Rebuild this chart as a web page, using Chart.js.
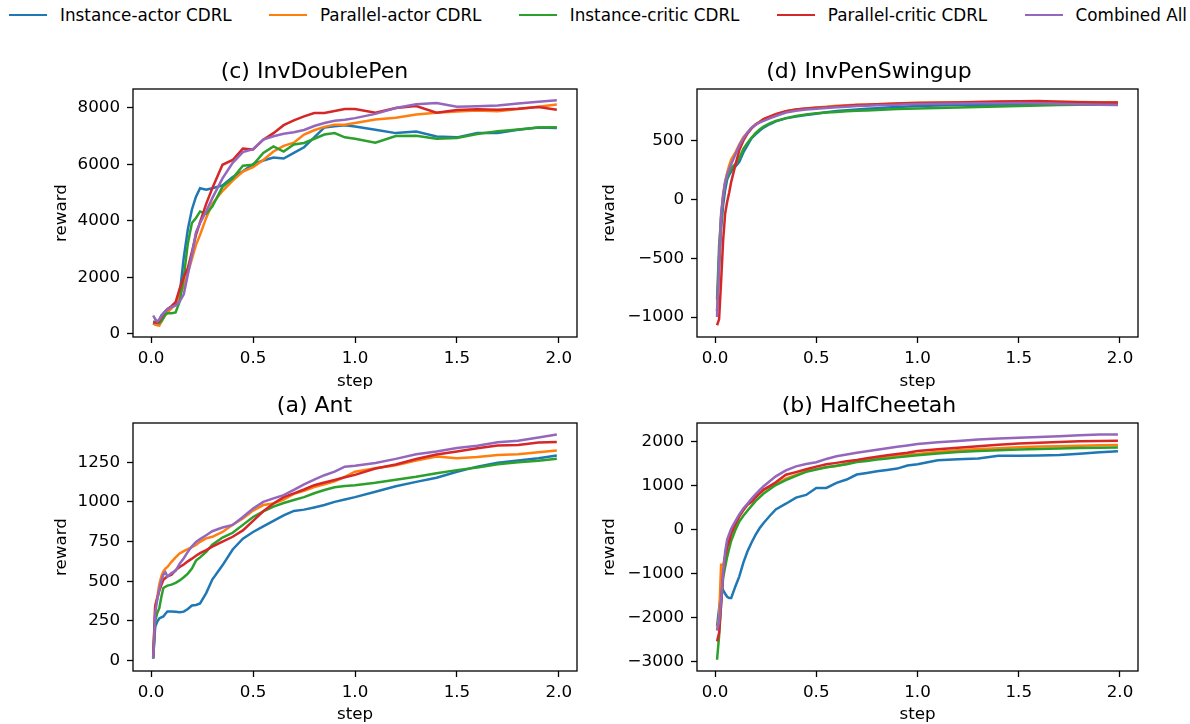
<!DOCTYPE html>
<html>
<head>
<meta charset="utf-8">
<script src="https://cdn.jsdelivr.net/npm/chart.js@4.4.1/dist/chart.umd.min.js"></script>
<style>
  body { margin: 0; width: 1190px; height: 724px; background: #fff; position: relative; overflow: hidden; font-family: "DejaVu Sans", sans-serif; }
  canvas { position: absolute; }
  #legend { position: absolute; left: 9px; top: 4px; width: 1178px; display: flex; justify-content: space-between; font-size: 16.8px; line-height: 22px; color: #000; white-space: nowrap; }
  .item { display: flex; align-items: center; }
  .swatch { display: inline-block; width: 38px; height: 2.5px; margin-right: 13px; }
</style>
</head>
<body>
<div id="legend"></div>
<canvas id="panel-doublepen" width="533" height="331" style="left:52px;top:61px"></canvas>
<canvas id="panel-swingup" width="546" height="331" style="left:600px;top:61px"></canvas>
<canvas id="panel-ant" width="533" height="330" style="left:52px;top:395px"></canvas>
<canvas id="panel-cheetah" width="546" height="330" style="left:600px;top:395px"></canvas>
<script>
// shared x grid (training step) for every curve
const STEPS = [0.01, 0.02, 0.03, 0.04, 0.05, 0.06, 0.07, 0.08,
               0.10, 0.12, 0.14, 0.16, 0.18, 0.20, 0.22, 0.24,
               0.27, 0.30,
               0.35, 0.40, 0.45, 0.50, 0.55, 0.60, 0.65, 0.70, 0.75, 0.80, 0.85, 0.90, 0.95, 1.00,
               1.10, 1.20, 1.30, 1.40, 1.50, 1.60, 1.70, 1.80, 1.90,
               1.99];
const X_TICKS = [0, 0.5, 1, 1.5, 2];

const SERIES_NAMES = ["Instance-actor CDRL", "Parallel-actor CDRL", "Instance-critic CDRL", "Parallel-critic CDRL", "Combined All"];
const SERIES_COLORS = ["#1f77b4", "#ff7f0e", "#2ca02c", "#d62728", "#9467bd"];

/* -------------------- (c) InvDoublePen -------------------- */
const DOUBLEPEN_TICKS = [0, 2000, 4000, 6000, 8000];
const DOUBLEPEN_INST_ACTOR = [380, 330, 320, 500, 650, 730, 800, 870,
  970, 1100, 1400, 2700, 3700, 4400, 4850, 5150,
  5100, 5150,
  5250, 5550, 5750, 6000, 6130, 6240, 6200, 6400, 6600, 6950, 7300, 7340, 7380, 7330,
  7220, 7100, 7160, 6980, 6950, 7100, 7100, 7220, 7300,
  7280];
const DOUBLEPEN_PAR_ACTOR = [380, 340, 300, 290, 420, 560, 680, 750,
  900, 1050, 1350, 1700, 2150, 2650, 3150, 3500,
  4100, 4600,
  5050, 5420, 5740, 5900, 6150, 6450, 6650, 6760, 7050, 7200, 7320, 7400, 7400, 7460,
  7580, 7640, 7760, 7820, 7860, 7900, 7870, 7950, 8030,
  8110];
const DOUBLEPEN_INST_CRITIC = [440, 420, 400, 380, 450, 560, 680, 730,
  730, 760, 1150, 2000, 3200, 3920, 4100, 4330,
  4250, 4500,
  5200, 5500, 5950, 5980, 6400, 6630, 6450, 6700, 6750, 6900, 7050, 7100, 6950, 6900,
  6760, 7000, 7010, 6900, 6930, 7070, 7170, 7230, 7300,
  7310];
const DOUBLEPEN_PAR_CRITIC = [400, 400, 400, 450, 580, 700, 800, 870,
  980, 1120, 1600, 2000, 2330, 2900, 3500, 3950,
  4600, 5150,
  5980, 6150, 6550, 6520, 6870, 7100, 7380, 7550, 7690, 7810, 7810, 7880, 7950, 7950,
  7820, 7990, 8060, 7820, 7920, 7940, 7930, 7960, 8020,
  7930];
const DOUBLEPEN_COMBINED = [650, 520, 440, 500, 620, 720, 800, 870,
  950, 1010, 1150, 1400, 2100, 2800, 3600, 3920,
  4330, 4800,
  5500, 6050, 6430, 6530, 6870, 6990, 7080, 7130, 7210, 7350, 7460, 7540, 7570, 7630,
  7780, 7990, 8120, 8165, 8030, 8050, 8075, 8150, 8210,
  8260];

/* -------------------- (d) InvPenSwingup -------------------- */
const SWINGUP_TICKS = [-1000, -500, 0, 500];
const SWINGUP_INST_ACTOR = [-950, -600, -250, -50, 80, 170, 210, 240,
  280, 320, 400, 460, 520, 555, 585, 612,
  640, 665,
  690, 705, 718, 730, 742, 752, 760, 766, 772, 777, 782, 787, 791, 795,
  800, 803, 805, 807, 808, 809, 810, 810, 811,
  811];
const SWINGUP_PAR_ACTOR = [-950, -500, -150, 50, 150, 228, 290, 340,
  398, 470, 530, 570, 605, 640, 660, 683,
  705, 725,
  752, 765, 775, 783, 790, 797, 802, 806, 809, 811, 814, 817, 820, 822,
  825, 827, 829, 830, 831, 832, 831, 829, 827,
  825];
const SWINGUP_INST_CRITIC = [-850, -400, -150, 20, 130, 190, 230, 265,
  300, 350, 430, 480, 525, 565, 595, 620,
  648, 668,
  692, 710, 724, 734, 740, 745, 750, 754, 758, 762, 766, 769, 772, 775,
  779, 783, 787, 791, 796, 800, 803, 805, 807,
  808];
const SWINGUP_PAR_CRITIC = [-1070, -1020, -700, -350, -120, -20, 60, 150,
  290, 420, 500, 560, 605, 635, 660, 683,
  705, 726,
  750, 765, 774, 780, 785, 792, 798, 803, 807, 810, 813, 816, 818, 820,
  823, 826, 830, 833, 836, 838, 832, 828, 826,
  825];
const SWINGUP_COMBINED = [-1000, -500, -120, 30, 150, 213, 260, 300,
  380, 460, 520, 570, 610, 635, 655, 669,
  690, 710,
  740, 755, 765, 772, 778, 785, 790, 795, 798, 801, 804, 807, 810, 812,
  815, 817, 818, 819, 820, 818, 815, 810, 806,
  803];

/* -------------------- (a) Ant -------------------- */
const ANT_TICKS = [0, 250, 500, 750, 1000, 1250];
const ANT_INST_ACTOR = [15, 215, 245, 265, 272, 278, 295, 309,
  309, 308, 305, 308, 325, 347, 350, 360,
  425, 510,
  600, 700, 768, 810, 845, 880, 915, 943, 951, 965, 980, 1000, 1015, 1030,
  1064, 1098, 1126, 1152, 1190, 1222, 1247, 1260, 1275,
  1292];
const ANT_PAR_ACTOR = [20, 350, 400, 480, 530, 562, 580, 590,
  622, 650, 675, 690, 702, 715, 728, 748,
  770, 780,
  810, 856, 895, 945, 980, 990, 1014, 1050, 1070, 1093, 1110, 1130, 1157, 1190,
  1212, 1230, 1260, 1286, 1275, 1282, 1296, 1300, 1313,
  1323];
const ANT_INST_CRITIC = [10, 250, 300, 330, 400, 457, 465, 472,
  478, 490, 505, 525, 548, 580, 630, 650,
  685, 730,
  775, 805, 855, 905, 940, 970, 993, 1012, 1030, 1054, 1075, 1092, 1100, 1105,
  1120, 1140, 1158, 1180, 1200, 1216, 1237, 1249, 1259,
  1271];
const ANT_PAR_CRITIC = [20, 340, 390, 440, 475, 509, 520, 530,
  541, 570, 590, 605, 625, 642, 660, 677,
  696, 718,
  750, 780, 820, 880, 941, 990, 1030, 1053, 1078, 1105, 1122, 1138, 1155, 1170,
  1210, 1235, 1270, 1298, 1318, 1338, 1355, 1358, 1374,
  1378];
const ANT_COMBINED = [15, 299, 385, 450, 500, 541, 556, 530,
  551, 565, 610, 645, 685, 720, 748, 765,
  790, 815,
  838, 855, 905, 958, 1000, 1022, 1042, 1075, 1110, 1140, 1168, 1190, 1222, 1228,
  1245, 1271, 1300, 1318, 1340, 1354, 1376, 1385, 1405,
  1424];

/* -------------------- (b) HalfCheetah -------------------- */
const CHEETAH_TICKS = [-3000, -2000, -1000, 0, 1000, 2000];
const CHEETAH_INST_ACTOR = [-2200, -1800, -1450, -1380, -1460, -1530, -1558, -1558,
  -1300, -1064, -750, -500, -300, -120, 30, 152,
  310, 460,
  590, 730, 790, 950, 950, 1064, 1140, 1254, 1290, 1330, 1360, 1390, 1459, 1490,
  1580, 1600, 1620, 1680, 1680, 1687, 1700, 1730, 1760,
  1786];
const CHEETAH_PAR_ACTOR = [-2280, -2000, -800, -800, -600, -380, -250, -120,
  60, 300, 440, 560, 660, 750, 830, 900,
  978, 1030,
  1160, 1247, 1330, 1380, 1420, 1450, 1500, 1560, 1590, 1640, 1665, 1690, 1710, 1720,
  1775, 1805, 1835, 1855, 1875, 1890, 1900, 1910, 1920,
  1925];
const CHEETAH_INST_CRITIC = [-2964, -2432, -1700, -1100, -850, -620, -430, -254,
  -15, 183, 314, 428, 541, 650, 735, 821,
  921, 1015,
  1125, 1225, 1315, 1370, 1420, 1455, 1490, 1540, 1565, 1595, 1620, 1645, 1670, 1695,
  1735, 1765, 1790, 1810, 1825, 1838, 1848, 1858, 1865,
  1870];
const CHEETAH_PAR_CRITIC = [-2546, -2356, -1700, -1000, -600, -400, -250, -80,
  125, 308, 445, 570, 630, 730, 820, 912,
  990, 1080,
  1250, 1310, 1375, 1435, 1490, 1520, 1555, 1583, 1625, 1660, 1695, 1720, 1750, 1790,
  1830, 1865, 1900, 1932, 1960, 1980, 1995, 2010, 2018,
  2022];
const CHEETAH_COMBINED = [-2300, -2100, -1600, -1000, -500, -228, -100, 20,
  190, 346, 480, 590, 700, 805, 897, 988,
  1100, 1213,
  1350, 1440, 1495, 1535, 1610, 1670, 1710, 1750, 1785, 1820, 1855, 1885, 1915, 1950,
  1990, 2020, 2050, 2075, 2090, 2110, 2128, 2150, 2166,
  2166];

Chart.defaults.font.family = "'DejaVu Sans', sans-serif";
Chart.defaults.font.size = 16.7;
Chart.defaults.color = "#000";

// matplotlib style box around the plotting area
const framePlugin = {
    id: "frame",
    afterDraw(chart) {
        const { ctx, chartArea: a } = chart;
        ctx.save();
        ctx.strokeStyle = "#000";
        ctx.lineWidth = 1.3;
        ctx.strokeRect(a.left, a.top, a.right - a.left, a.bottom - a.top);
        ctx.restore();
    }
};

function fmtNumber(v) {
    return v < 0 ? "\u2212" + Math.abs(v) : String(v);
}

function makePanel(id, title, series, yTicks, yMin, yMax, yAxisWidth, xAxisHeight) {
    const datasets = series.map((vals, i) => ({
        label: SERIES_NAMES[i],
        data: STEPS.map((x, k) => ({ x: x, y: vals[k] })),
        borderColor: SERIES_COLORS[i],
        backgroundColor: SERIES_COLORS[i],
        borderWidth: 2.5,
        pointRadius: 0,
        tension: 0,
        fill: false,
        order: series.length - i // last series on top, like matplotlib
    }));

    return new Chart(document.getElementById(id), {
        type: "line",
        data: { datasets },
        options: {
            responsive: false,
            animation: false,
            events: [],
            layout: { padding: { right: 8 } },
            plugins: {
                legend: { display: false },
                tooltip: { enabled: false },
                title: {
                    display: true,
                    text: title,
                    color: "#000",
                    font: { size: 22, weight: "normal", lineHeight: 1 },
                    padding: { top: 0, bottom: 6 }
                }
            },
            scales: {
                x: {
                    type: "linear",
                    min: -0.089,
                    max: 2.089,
                    afterBuildTicks: s => { s.ticks = X_TICKS.map(v => ({ value: v })); },
                    afterFit: s => { s.height = xAxisHeight; },
                    ticks: { callback: v => v.toFixed(1), padding: 6, maxRotation: 0, autoSkip: false },
                    grid: { drawOnChartArea: false, tickLength: 6, tickColor: "#000", tickWidth: 1.3 },
                    border: { display: false },
                    title: { display: true, text: "step", padding: 0 }
                },
                y: {
                    type: "linear",
                    min: yMin,
                    max: yMax,
                    afterBuildTicks: s => { s.ticks = yTicks.map(v => ({ value: v })); },
                    afterFit: s => { s.width = yAxisWidth; },
                    ticks: { callback: v => fmtNumber(v), padding: 7, autoSkip: false },
                    grid: { drawOnChartArea: false, tickLength: 6, tickColor: "#000", tickWidth: 1.3 },
                    border: { display: false },
                    title: { display: true, text: "reward", padding: 0 }
                }
            }
        },
        plugins: [framePlugin]
    });
}

document.addEventListener("DOMContentLoaded", () => {
    // shared legend across the four panels
    const legend = document.getElementById("legend");
    SERIES_NAMES.forEach((name, i) => {
        const item = document.createElement("div");
        item.className = "item";
        item.innerHTML = `<span class="swatch" style="background:${SERIES_COLORS[i]}"></span>${name}`;
        legend.appendChild(item);
    });

    makePanel("panel-doublepen", "(c) InvDoublePen",
        [DOUBLEPEN_INST_ACTOR, DOUBLEPEN_PAR_ACTOR, DOUBLEPEN_INST_CRITIC, DOUBLEPEN_PAR_CRITIC, DOUBLEPEN_COMBINED],
        DOUBLEPEN_TICKS, -110, 8660, 81, 55);
    makePanel("panel-swingup", "(d) InvPenSwingup",
        [SWINGUP_INST_ACTOR, SWINGUP_PAR_ACTOR, SWINGUP_INST_CRITIC, SWINGUP_PAR_CRITIC, SWINGUP_COMBINED],
        SWINGUP_TICKS, -1170, 940, 97, 55);
    makePanel("panel-ant", "(a) Ant",
        [ANT_INST_ACTOR, ANT_PAR_ACTOR, ANT_INST_CRITIC, ANT_PAR_CRITIC, ANT_COMBINED],
        ANT_TICKS, -66, 1497, 81, 54);
    makePanel("panel-cheetah", "(b) HalfCheetah",
        [CHEETAH_INST_ACTOR, CHEETAH_PAR_ACTOR, CHEETAH_INST_CRITIC, CHEETAH_PAR_CRITIC, CHEETAH_COMBINED],
        CHEETAH_TICKS, -3220, 2428, 97, 54);
});
</script>
</body>
</html>
